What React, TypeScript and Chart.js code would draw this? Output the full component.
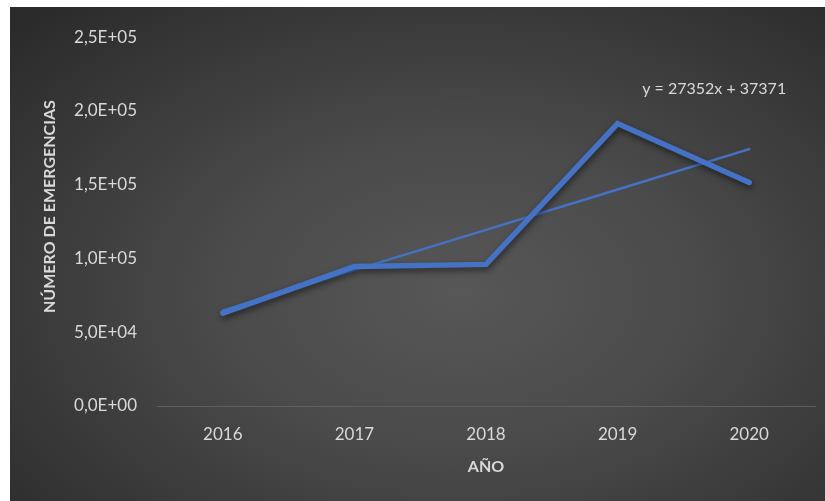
import React, { useEffect, useRef } from "react";
import { Chart, registerables } from "chart.js";

Chart.register(...registerables);

const years = ["2016", "2017", "2018", "2019", "2020"];
const emergencias = [63000, 94500, 96000, 191500, 151500];
const tendencia = [64723, 92075, 119427, 146779, 174131];
const equationLabel = "y = 27352x + 37371";
const yTitle = "NÚMERO DE EMERGENCIAS";
const xTitle = "AÑO";

const FONT = "Lato, 'Open Sans', sans-serif";
const TEXT = "#d9d9d9";
const BLUE = "#4472C4";

function formatSci(v: number): string {
  if (v === 0) return "0,0E+00";
  const exp = Math.floor(Math.log10(Math.abs(v)));
  const mant = v / Math.pow(10, exp);
  const e = (exp < 10 ? "0" : "") + exp;
  return mant.toFixed(1).replace(".", ",") + "E+" + e;
}

export default function App() {
  const ref = useRef<HTMLCanvasElement | null>(null);

  useEffect(() => {
    if (!ref.current) return;

    const shadowPlugin = {
      id: "lineShadow",
      beforeDatasetDraw(chart: any, args: any) {
        if (args.index === 0) {
          const ctx = chart.ctx;
          ctx.save();
          ctx.shadowColor = "rgba(0,0,0,0.55)";
          ctx.shadowBlur = 6;
          ctx.shadowOffsetX = 1;
          ctx.shadowOffsetY = 3;
        }
      },
      afterDatasetDraw(chart: any, args: any) {
        if (args.index === 0) chart.ctx.restore();
      },
    };

    const textPlugin = {
      id: "textLabels",
      afterDraw(chart: any) {
        const { ctx, scales, chartArea } = chart;
        const x = scales.x.getPixelForValue(4);
        const y = scales.y.getPixelForValue(tendencia[4]);
        ctx.save();
        ctx.font = `16px ${FONT}`;
        ctx.fillStyle = TEXT;
        ctx.textAlign = "center";
        ctx.textBaseline = "middle";
        ctx.fillText(equationLabel, x - 35, y - 60);
        // y axis title
        ctx.translate(40, (chartArea.top + chartArea.bottom) / 2 - 15);
        ctx.rotate(-Math.PI / 2);
        ctx.font = `bold 16px ${FONT}`;
        ctx.fillText(yTitle, 0, 0);
        ctx.restore();
      },
    };

    const chart = new Chart(ref.current, {
      type: "line",
      data: {
        labels: years,
        datasets: [
          {
            label: "Emergencias",
            data: emergencias,
            borderColor: BLUE,
            borderWidth: 5.5,
            pointRadius: 0,
            tension: 0,
            borderCapStyle: "round",
            borderJoinStyle: "miter",
          },
          {
            label: "Lineal",
            data: tendencia,
            borderColor: BLUE,
            borderWidth: 2.5,
            pointRadius: 0,
            tension: 0,
            borderCapStyle: "round",
          },
        ],
      },
      options: {
        animation: false,
        responsive: false,
        layout: { padding: { top: 26, right: 10, left: 0, bottom: 0 } },
        plugins: { legend: { display: false }, tooltip: { enabled: false } },
        scales: {
          x: {
            offset: true,
            grid: { display: false, drawTicks: false },
            border: { display: true, color: "#5f5f5f", width: 1 },
            ticks: { color: TEXT, font: { family: FONT, size: 17 }, padding: 18 },
            title: {
              display: true,
              text: xTitle,
              color: TEXT,
              font: { family: FONT, size: 16, weight: "bold" },
              padding: { top: 4, bottom: 25 },
            },
            afterFit(scale: any) {
              scale.height = 95;
            },
          },
          y: {
            min: 0,
            max: 250000,
            grid: { display: false, drawTicks: false },
            border: { display: false },
            ticks: {
              stepSize: 50000,
              color: TEXT,
              font: { family: FONT, size: 17 },
              padding: 20,
              callback: (v: any) => formatSci(Number(v)),
            },
            title: { display: false },
            afterFit(scale: any) {
              scale.width = 147;
            },
          },
        },
      },
      plugins: [shadowPlugin, textPlugin],
    });

    return () => chart.destroy();
  }, []);

  return (
    <div
      style={{
        position: "absolute",
        left: 10,
        top: 7,
        width: 815,
        height: 494,
        background:
          "radial-gradient(ellipse 75% 80% at 55% 58%, #575757 0%, #4a4a4a 40%, #2a2a2a 100%)",
      }}
    >
      <canvas ref={ref} width={815} height={494} style={{ display: "block" }} />
    </div>
  );
}
